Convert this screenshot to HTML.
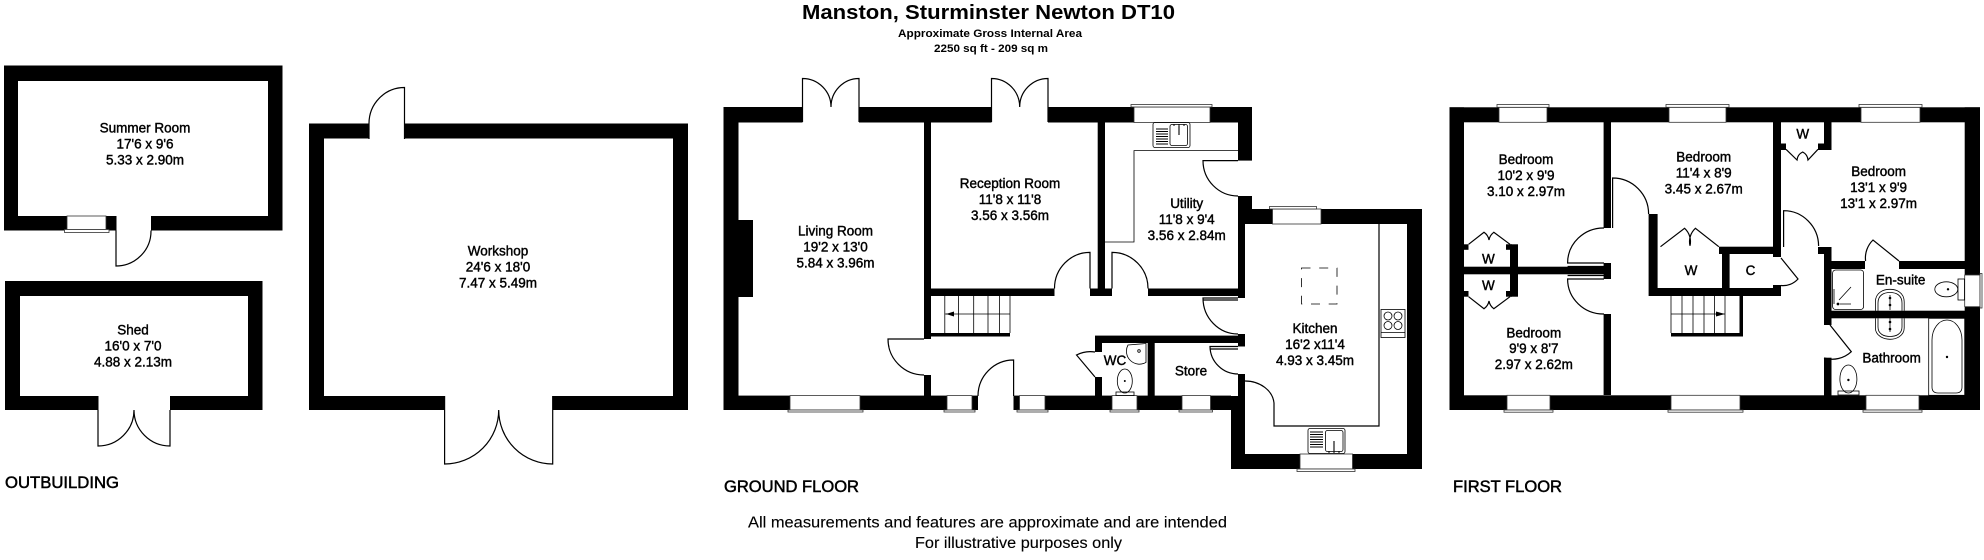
<!DOCTYPE html>
<html><head><meta charset="utf-8"><style>
html,body{margin:0;padding:0;background:#fff;width:1984px;height:560px;overflow:hidden}
svg{display:block}
text{font-family:"Liberation Sans",sans-serif;text-anchor:middle;dominant-baseline:central;fill:#000;font-size:13.5px;stroke:#000;stroke-width:.42}
.f{font-size:16.5px;text-anchor:start;stroke-width:.5}
.d{font-size:15.5px;stroke:#000;stroke-width:.12}
.l,.l *{fill:none;stroke:#000;stroke-width:1.2}
.t,.t *{fill:none;stroke:#000;stroke-width:.8}
.n{fill:#fff;stroke:none}
.win rect{fill:#fff;stroke:#333;stroke-width:.8}
</style></head><body>
<svg width="1984" height="560" viewBox="0 0 1984 560" xmlns="http://www.w3.org/2000/svg">
<rect width="1984" height="560" fill="#fff"/>

<!-- OUTBUILDING -->
<path fill="#000" fill-rule="evenodd" d="M4 65.5H282.5V230.5H4ZM18 81V216H268V81Z"/>
<path fill="#000" fill-rule="evenodd" d="M5 281H262.5V410H5ZM20 296V396H248V296Z"/>
<path fill="#000" fill-rule="evenodd" d="M309 123.5H688V410H309ZM324 138.5V396H673V138.5Z"/>
<rect class="n" x="116.5" y="215" width="34.5" height="17"/>
<rect class="n" x="98.5" y="395" width="71.5" height="17"/>
<rect class="n" x="369.5" y="122" width="35" height="18"/>
<rect class="n" x="445" y="395" width="107.5" height="17"/>
<g class="win"><rect x="67" y="216" width="39" height="13.5"/><rect x="64.5" y="229.5" width="44.5" height="3"/></g>
<g class="l">
<path d="M116 230.5V266A35 35 0 0 0 151 230.5"/>
<path d="M98 410V446A36 36 0 0 0 134 410M170 410V446A36 36 0 0 1 134 410"/>
<path d="M369 139V123.5A35.5 36 0 0 1 404.5 87.5V139"/>
<path d="M444.6 396V464A54 54 0 0 0 498.7 410M552.7 396V464A54 54 0 0 1 498.7 410"/>
</g>
<text x="145" y="128">Summer Room</text><text x="145" y="144">17'6 x 9'6</text><text x="145" y="160">5.33 x 2.90m</text>
<text x="133" y="330">Shed</text><text x="133" y="346">16'0 x 7'0</text><text x="133" y="362">4.88 x 2.13m</text>
<text x="498" y="251">Workshop</text><text x="498" y="267">24'6 x 18'0</text><text x="498" y="283">7.47 x 5.49m</text>
<text class="f" x="5" y="483" textLength="114" lengthAdjust="spacingAndGlyphs">OUTBUILDING</text>

<!-- TITLE -->
<text x="988.5" y="13" textLength="373" lengthAdjust="spacingAndGlyphs" style="font-size:20px;font-weight:bold;stroke:none">Manston, Sturminster Newton DT10</text>
<text x="990" y="34" textLength="184" lengthAdjust="spacingAndGlyphs" style="font-size:11px;font-weight:bold;stroke:none">Approximate Gross Internal Area</text>
<text x="991" y="49" textLength="114" lengthAdjust="spacingAndGlyphs" style="font-size:11px;font-weight:bold;stroke:none">2250 sq ft - 209 sq m</text>

<!-- GROUND FLOOR WALLS -->
<g fill="#000">
<rect x="723.5" y="107" width="528.5" height="15.5"/>
<rect x="723.5" y="107" width="15" height="303"/>
<rect x="738" y="220" width="15" height="77"/>
<rect x="723.5" y="395.6" width="507.5" height="14.4"/>
<rect x="924" y="122" width="7" height="217"/>
<rect x="924" y="375" width="7" height="21"/>
<rect x="931" y="288.5" width="123.5" height="7.5"/>
<rect x="1097.7" y="122" width="7.3" height="174"/>
<rect x="1090" y="288.5" width="22" height="7.5"/>
<rect x="1148" y="288.5" width="90" height="7.5"/>
<rect x="1238" y="107" width="14" height="53.6"/>
<rect x="1238" y="196" width="14" height="28"/>
<rect x="1238" y="224" width="7" height="74"/>
<rect x="1238" y="334" width="7" height="12.5"/>
<rect x="1095" y="335.6" width="150" height="7.4"/>
<rect x="1095" y="336" width="7" height="16"/>
<rect x="1095" y="377" width="7" height="19"/>
<rect x="1147.7" y="343" width="7" height="53"/>
<rect x="1238" y="374" width="7" height="22"/>
<rect x="1231" y="396" width="14" height="73"/>
<rect x="1245" y="209" width="177" height="15"/>
<rect x="1407" y="209" width="15" height="260"/>
<rect x="1231" y="454" width="191" height="15"/>
<rect x="931" y="333" width="79" height="3.5"/>
</g>
<rect class="n" x="802.5" y="106" width="56.5" height="17"/>
<rect class="n" x="991.5" y="106" width="56.5" height="17"/>
<rect class="n" x="978" y="395" width="35.5" height="16"/>
<g class="win">
<rect x="1134" y="107" width="76" height="15.5"/><rect x="1131" y="104.5" width="81" height="2.5"/>
<rect x="1272.5" y="209" width="48.5" height="15"/><rect x="1269.5" y="206.5" width="47" height="2.5"/>
<rect x="790" y="395.6" width="70" height="14.4"/><rect x="788" y="410" width="75" height="2"/>
<rect x="947" y="395.6" width="25" height="14.4"/><rect x="944" y="410" width="31" height="2"/>
<rect x="1019.5" y="395.6" width="25.5" height="14.4"/><rect x="1017" y="410" width="31" height="2"/>
<rect x="1112" y="395.6" width="25" height="14.4"/><rect x="1110" y="410" width="29" height="2"/>
<rect x="1182" y="395.6" width="28.5" height="14.4"/><rect x="1179" y="410" width="33.5" height="2"/>
<rect x="1300" y="454" width="52.5" height="15"/><rect x="1297" y="469" width="58" height="2.5"/>
</g>
<!-- ground doors -->
<g class="l">
<path d="M802.5 122V78.5A28.5 28.5 0 0 1 831 107M859 122V78.5A28 28.5 0 0 0 831 107"/>
<path d="M991.5 122V78.5A28.2 28.5 0 0 1 1019.7 107M1048 122V78.5A28.3 28.5 0 0 0 1019.7 107"/>
<path d="M924 339H888A36 36 0 0 0 924 375"/>
<path d="M978 396A35.6 36 0 0 1 1013.6 360V396"/>
<path d="M1090 288.5V252.4A35.5 36 0 0 0 1054.5 288.5"/>
<path d="M1112 288.5V252.4A36 36 0 0 1 1148 288.5"/>
<path d="M1238 160.6H1203A35 35.4 0 0 0 1238 196"/>
<path d="M1238 298H1203A35 36 0 0 0 1238 334M1203 300H1238"/>
<path d="M1238 346.5H1210A28 28 0 0 0 1238 374M1210 349H1238"/>
<path d="M1095 377L1076.5 355A30 30 0 0 1 1095 352" stroke-width="1.6"/>
<path d="M1245 381A29 24 0 0 1 1274 403V426H1379V224"/>
</g>
<g class="t">
<path d="M1238 150.6H1134V242H1105"/>
<path d="M944.8 296V333M958.5 296V333M973.7 296V333M988 296V333M999.4 296V333M1010 296V333M945 314H1010"/>
<path stroke-dasharray="9 8.7" d="M1301.5 268H1337V304H1301.5Z"/>
</g>
<path d="M946 314L954 311.5V316.5Z" fill="#000"/>
<path d="M954 314H946" stroke="#000"/>
<!-- utility sink -->
<g class="t">
<rect x="1153" y="122.5" width="37" height="25" rx="2" fill="#fff"/>
<rect x="1170" y="124.5" width="17.5" height="21" rx="2"/>
</g>
<g stroke="#000" stroke-width="1.1">
<path d="M1156 129H1168M1156 131.5H1168M1156 134H1168M1156 136.5H1168M1156 139H1168M1156 141.5H1168M1156 144H1168"/>
<path d="M1179 126V135M1173 125H1175M1178 125H1180M1183 125H1185"/>
</g>
<!-- kitchen sink -->
<g class="t">
<rect x="1308" y="428.5" width="37" height="25" rx="2" fill="#fff"/>
<rect x="1325.5" y="430.5" width="17.5" height="21" rx="2"/>
</g>
<g stroke="#000" stroke-width="1.1">
<path d="M1310 432H1323M1310 434.5H1323M1310 437H1323M1310 439.5H1323M1310 442H1323M1310 444.5H1323M1310 447H1323"/>
<path d="M1334 441V451M1328 452H1330M1333 452H1335M1338 452H1340"/>
</g>
<!-- hob -->
<g class="t">
<rect x="1381" y="309.5" width="24" height="28"/>
<circle cx="1388" cy="316" r="4"/><circle cx="1398" cy="316" r="4"/><circle cx="1388" cy="325.5" r="4"/><circle cx="1398" cy="325.5" r="4"/>
<path d="M1381 332.5H1405"/>
</g>
<!-- WC -->
<g class="t">
<ellipse cx="1124.8" cy="381" rx="7.5" ry="12" fill="#fff"/>
<rect x="1116" y="392" width="18" height="3.6" fill="#fff"/>
<path d="M1128 345A13 13 0 0 0 1146 362.4L1146 343.5Z" fill="#fff"/>
<circle cx="1139" cy="351" r="1.3"/>
</g>
<circle cx="1124.8" cy="381" r="1" fill="#000"/>

<text x="835.5" y="231">Living Room</text><text x="835.5" y="247">19'2 x 13'0</text><text x="835.5" y="263">5.84 x 3.96m</text>
<text x="1010" y="183.5">Reception Room</text><text x="1010" y="199.5">11'8 x 11'8</text><text x="1010" y="215.5">3.56 x 3.56m</text>
<text x="1186.7" y="203.5">Utility</text><text x="1186.7" y="219.5">11'8 x 9'4</text><text x="1186.7" y="235.5">3.56 x 2.84m</text>
<text x="1315" y="328.5">Kitchen</text><text x="1315" y="344.5">16'2 x11'4</text><text x="1315" y="360.5">4.93 x 3.45m</text>
<text x="1115" y="360.5">WC</text><text x="1191" y="371">Store</text>
<text class="f" x="724" y="487" textLength="135" lengthAdjust="spacingAndGlyphs">GROUND FLOOR</text>
<text class="d" x="987.5" y="523" textLength="479" lengthAdjust="spacingAndGlyphs">All measurements and features are approximate and are intended</text>
<text class="d" x="1018.5" y="543.5" textLength="207" lengthAdjust="spacingAndGlyphs">For illustrative purposes only</text>

<!-- FIRST FLOOR WALLS -->
<g fill="#000">
<rect x="1449.5" y="107.3" width="530.5" height="15"/>
<rect x="1449.5" y="395.3" width="530.5" height="14.7"/>
<rect x="1449.5" y="107.3" width="14.5" height="302.7"/>
<rect x="1964.7" y="107.3" width="15.3" height="302.7"/>
<rect x="1603.6" y="122" width="7.4" height="106"/>
<rect x="1603.6" y="263" width="7.4" height="16"/>
<rect x="1603.6" y="314" width="7.4" height="81"/>
<rect x="1464" y="266.7" width="140" height="7.6"/>
<rect x="1510" y="244.3" width="8" height="52.4"/>
<rect x="1464" y="244.3" width="4.5" height="5.5"/>
<rect x="1464" y="291" width="4.5" height="5.7"/>
<rect x="1506" y="244.3" width="6" height="5.5"/>
<rect x="1506" y="291" width="6" height="5.7"/>
<rect x="1648.6" y="214" width="9" height="82"/>
<rect x="1650" y="288" width="130" height="8"/>
<rect x="1719" y="246.7" width="61" height="7.3"/>
<rect x="1722" y="254" width="7.6" height="34"/>
<rect x="1773" y="122" width="8" height="135"/>
<rect x="1773" y="285" width="8" height="11"/>
<rect x="1818" y="247" width="13.5" height="7"/>
<rect x="1824" y="247" width="7.5" height="78"/>
<rect x="1824" y="357.7" width="7.5" height="38"/>
<rect x="1831" y="261" width="34" height="8"/>
<rect x="1899" y="261" width="66" height="8"/>
<rect x="1824" y="310.7" width="141" height="7.6"/>
<rect x="1824" y="122" width="7.5" height="28"/>
<rect x="1818" y="143.5" width="13.5" height="6.5"/>
<rect x="1781" y="143.5" width="5" height="6.5"/>
<rect x="1739.5" y="296" width="3.5" height="40"/>
<rect x="1671" y="333" width="72" height="3.5"/>
</g>
<g class="win">
<rect x="1499" y="107.3" width="48" height="15"/><rect x="1497" y="104.5" width="52" height="2.8"/>
<rect x="1669" y="107.3" width="57" height="15"/><rect x="1666" y="104.5" width="63" height="2.8"/>
<rect x="1861" y="107.3" width="59" height="15"/><rect x="1859" y="104.5" width="63" height="2.8"/>
<rect x="1507" y="395.3" width="43" height="14.7"/><rect x="1504" y="410" width="49" height="2.2"/>
<rect x="1671" y="395.3" width="69" height="14.7"/><rect x="1668" y="410" width="75" height="2.2"/>
<rect x="1866" y="395.3" width="53" height="14.7"/><rect x="1863" y="410" width="59" height="2.2"/>
<rect x="1964.7" y="275" width="15.3" height="31.7"/><rect x="1980" y="273.5" width="2" height="34.5"/>
</g>
<g class="l">
<path d="M1604 263H1567.6A36 35 0 0 1 1604 228M1567.6 266.5H1604"/>
<path d="M1604 279H1567.6A36 35 0 0 0 1604 314M1567.6 275.5H1604"/>
<path d="M1612.6 228V178A36 36 0 0 1 1648.6 214"/>
<path d="M1783.6 247V210.7A35 35.5 0 0 1 1818.6 246"/>
</g>
<g class="l" style="stroke-width:1.6">
<path d="M1781 258L1798 279A20 20 0 0 1 1781 285.5"/>
<path d="M1899 261L1873 240A25 25 0 0 0 1865.6 261"/>
<path d="M1830 325L1851.3 351.7A28 28 0 0 1 1824 358"/>
<path d="M1468.6 244.3L1484 232.3A12 12 0 0 1 1489 240A12 12 0 0 1 1493.8 232.3L1510 244.3"/>
<path d="M1468.6 296.7L1484 308.7A12 12 0 0 0 1489 301A12 12 0 0 0 1493.8 308.7L1510 296.7"/>
<path d="M1660.5 246.7L1684.6 228.3A18 18 0 0 1 1690 245.7A18 18 0 0 1 1695.4 228.3L1718.8 246.7"/>
<path d="M1786 149.3L1797 160A10 10 0 0 1 1802.7 152A10 10 0 0 1 1808 160L1818 149.3"/>
</g>
<g class="t">
<path d="M1671 296V333M1682 296V333M1693 296V333M1704 296V333M1714.5 296V333M1725 296V333M1671 314H1725"/>
<rect x="1832.6" y="270" width="31" height="39.5" rx="3"/>
<path d="M1839 300L1851 287M1840 304H1851M1834 289V304"/>
<path d="M1875.4 310.7V302C1875.4 292 1884 289.3 1890 289.3S1904.2 292 1904.2 302V310.7"/>
<path d="M1878 310.7V303C1878 295 1884 292.5 1890 292.5S1902 295 1902 303V310.7"/>
<path d="M1875.4 318.3V328C1875.4 336 1884 339.3 1890 339.3S1904.2 336 1904.2 328V318.3"/>
<path d="M1878 318.3V327C1878 334 1884 336.5 1890 336.5S1902 334 1902 327V318.3"/>
<path d="M1890 295V310M1890 318V332"/>
<ellipse cx="1946.3" cy="289.3" rx="11.5" ry="7.5"/>
<rect x="1958" y="279" width="6.5" height="21"/>
<rect x="1928.7" y="318.3" width="36" height="77"/>
<path d="M1932 340A15 20 0 0 1 1962 340V387Q1962 393 1956 393H1938Q1932 393 1932 387Z"/>
<ellipse cx="1848.4" cy="379" rx="8.5" ry="14"/>
<rect x="1838" y="391" width="21" height="4"/>
</g>
<path d="M1725 314L1716 311.5V316.5Z" fill="#000"/>
<g fill="#000">
<circle cx="1890" cy="298" r="1.3"/><circle cx="1890" cy="305" r="1.3"/>
<circle cx="1890" cy="322" r="1.3"/><circle cx="1890" cy="329" r="1.3"/>
<circle cx="1948" cy="289.3" r="1.2"/><circle cx="1947" cy="357" r="1.2"/><circle cx="1848.4" cy="380" r="1.2"/><circle cx="1838" cy="304" r="1.4"/>
</g>

<text x="1526" y="159.7">Bedroom</text><text x="1526" y="175.7">10'2 x 9'9</text><text x="1526" y="191.7">3.10 x 2.97m</text>
<text x="1703.7" y="157">Bedroom</text><text x="1703.7" y="173">11'4 x 8'9</text><text x="1703.7" y="189">3.45 x 2.67m</text>
<text x="1878.6" y="171.3">Bedroom</text><text x="1878.6" y="187.3">13'1 x 9'9</text><text x="1878.6" y="203.3">13'1 x 2.97m</text>
<text x="1533.8" y="333">Bedroom</text><text x="1533.8" y="348.7">9'9 x 8'7</text><text x="1533.8" y="364.5">2.97 x 2.62m</text>
<text x="1488.4" y="259">W</text><text x="1488.4" y="285.7">W</text><text x="1691" y="270.3">W</text><text x="1750.5" y="270.3">C</text><text x="1802.7" y="134">W</text>
<text x="1900.6" y="280">En-suite</text><text x="1891.6" y="358">Bathroom</text>
<text class="f" x="1453" y="487" textLength="109" lengthAdjust="spacingAndGlyphs">FIRST FLOOR</text>
</svg>
</body></html>
